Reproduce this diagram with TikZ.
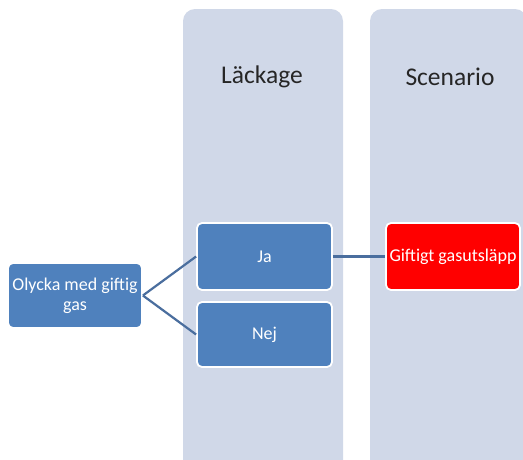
\documentclass[tikz,border=0pt]{standalone}
\usepackage{fontspec}
\setmainfont{Carlito}
\definecolor{colbg}{HTML}{D0D8E8}
\definecolor{boxblue}{HTML}{4F81BD}
\definecolor{linkblue}{HTML}{4A6E9E}
\definecolor{boxred}{HTML}{FF0000}
\begin{document}
\begin{tikzpicture}[x=1pt,y=-1pt,
  colbox/.style={fill=colbg,draw=none,rounded corners=12pt},
  itembox/.style={fill=boxblue,draw=white,line width=1.8pt,rounded corners=5pt,
    text=white,font=\fontsize{18}{20}\selectfont,align=center,inner sep=0pt},
  redbox/.style={itembox,fill=boxred},
  link/.style={draw=linkblue,line width=2.2pt},
  coltitle/.style={font=\fontsize{25.5}{28}\selectfont,text=black!85}]
\useasboundingbox (0,0) rectangle (523,459);
\clip (0,0) rectangle (523,459);
\fill[white] (0,0) rectangle (523,459);
\path[colbox] (183,9) rectangle (343,480);
\path[colbox] (370,9) rectangle (527,480);
\node[coltitle] (t1) at (262,77) {Läckage};
\node[coltitle] (t2) at (450,77) {Scenario};
\node[itembox,minimum width=134pt,minimum height=65pt] (o) at (75,295.5) {Olycka med giftig\\gas};
\node[itembox,minimum width=135pt,minimum height=67pt] (ja) at (264.5,256.5) {Ja};
\node[itembox,minimum width=135pt,minimum height=65pt] (nej) at (264.5,334.5) {Nej};
\node[redbox,minimum width=134pt,minimum height=67pt] (g) at (453,256.5) {Giftigt gasutsläpp};
\draw[link] (o.east) -- (ja.west);
\draw[link] (o.east) -- (nej.west);
\draw[link] (ja.east) -- (g.west);
\end{tikzpicture}
\end{document}
